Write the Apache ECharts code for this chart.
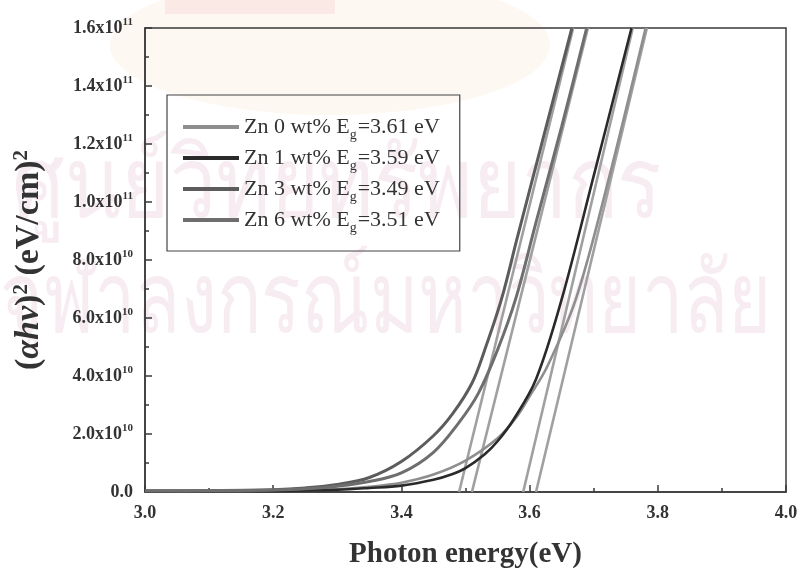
<!DOCTYPE html>
<html>
<head>
<meta charset="utf-8">
<script src="https://cdn.jsdelivr.net/npm/echarts@6/dist/echarts.min.js"></script>
<style>
  html, body { margin: 0; padding: 0; background: #ffffff; }
  #chart { width: 802px; height: 574px; }
</style>
</head>
<body>
<div id="chart"></div>
<script>
// ---- data ----
const seriesNames = ['Zn 0 wt%', 'Zn 1 wt%', 'Zn 3 wt%', 'Zn 6 wt%'];
const bandGaps = ['3.61', '3.59', '3.49', '3.51'];

const energyZn0 = [3.00, 3.10, 3.20, 3.30, 3.35, 3.40, 3.45, 3.50, 3.55, 3.58, 3.60, 3.627, 3.672, 3.72, 3.781];
const valueZn0  = [0.02e10, 0.03e10, 0.05e10, 0.10e10, 0.18e10, 0.32e10, 0.60e10, 1.08e10, 1.85e10, 2.6e10, 3.3e10, 4.3e10, 6.64e10, 10.5e10, 16e10];

const energyZn1 = [3.00, 3.10, 3.20, 3.30, 3.35, 3.40, 3.45, 3.48, 3.50, 3.53, 3.55, 3.575, 3.61, 3.65, 3.70, 3.759];
const valueZn1  = [0.02e10, 0.03e10, 0.04e10, 0.08e10, 0.14e10, 0.22e10, 0.42e10, 0.62e10, 0.82e10, 1.3e10, 1.75e10, 2.5e10, 3.89e10, 6.64e10, 10.9e10, 16e10];

const energyZn3 = [3.00, 3.10, 3.20, 3.25, 3.30, 3.35, 3.40, 3.45, 3.48, 3.51, 3.53, 3.556, 3.58, 3.62, 3.666];
const valueZn3  = [0.04e10, 0.05e10, 0.08e10, 0.14e10, 0.26e10, 0.50e10, 1.05e10, 1.94e10, 2.7e10, 3.75e10, 4.9e10, 6.64e10, 8.7e10, 12.1e10, 16e10];

const energyZn6 = [3.00, 3.10, 3.20, 3.25, 3.30, 3.35, 3.40, 3.45, 3.49, 3.52, 3.55, 3.578, 3.61, 3.65, 3.689];
const valueZn6  = [0.04e10, 0.05e10, 0.07e10, 0.11e10, 0.20e10, 0.36e10, 0.66e10, 1.37e10, 2.4e10, 3.4e10, 4.9e10, 6.64e10, 9.3e10, 12.6e10, 16e10];

// tangent (extrapolation) lines: start at Eg on the axis, end at the top of the plot
const tangentStart = [3.61, 3.59, 3.49, 3.51];
const tangentEnd   = [3.783, 3.761, 3.668, 3.691];
const tangentTopValue = 1.6e11;

const yTickLabels = ['0.0', '2.0x10^10', '4.0x10^10', '6.0x10^10', '8.0x10^10',
                     '1.0x10^11', '1.2x10^11', '1.4x10^11', '1.6x10^11'];
const xTickLabels = ['3.0', '3.2', '3.4', '3.6', '3.8', '4.0'];

const watermarkLines = ['ศูนย์วิทยทรัพยากร', 'จุฬาลงกรณ์มหาวิทยาลัย'];

// ---- build ----
const zip = (xs, ys) => xs.map((x, i) => [x, ys[i]]);
const curveData = [zip(energyZn0, valueZn0), zip(energyZn1, valueZn1),
                   zip(energyZn3, valueZn3), zip(energyZn6, valueZn6)];
const curveColors = ['#8e8e8e', '#2a2a2a', '#5c5c5c', '#6e6e6e'];
const curveWidths = [2.6, 2.6, 3, 3];

const serif = '"Liberation Serif", "Times New Roman", serif';

const series = [];
tangentStart.forEach((s, i) => {
  series.push({
    type: 'line', name: 'tangent' + i, silent: true, symbol: 'none',
    data: [[s, 0], [tangentEnd[i], tangentTopValue]],
    lineStyle: { color: '#a0a0a0', width: 2.6 }, z: 2
  });
});
curveData.forEach((d, i) => {
  series.push({
    type: 'line', name: seriesNames[i], symbol: 'none', smooth: 0.35,
    data: d, color: curveColors[i],
    lineStyle: { color: curveColors[i], width: curveWidths[i] }, z: 3
  });
});

function yLabel(v) {
  const idx = Math.round(v / 2e10);
  const s = yTickLabels[idx];
  if (s === undefined) return '';
  const parts = s.split('^');
  return parts.length > 1 ? parts[0] + '{sup|' + parts[1] + '}' : s;
}

const chart = echarts.init(document.getElementById('chart'), null, { renderer: 'canvas' });
chart.setOption({
  backgroundColor: '#ffffff',
  animation: false,
  graphic: [
    { type: 'ellipse', shape: { cx: 330, cy: 45, rx: 220, ry: 70 }, style: { fill: '#fdf8f2' }, z: -10, silent: true },
    { type: 'rect', shape: { x: 165, y: 0, width: 170, height: 14 }, style: { fill: '#fbe9e6' }, z: -10, silent: true },
    { type: 'text', x: 12, y: 140, scaleX: 0.94, scaleY: 1.12, z: -9, silent: true,
      style: { text: watermarkLines[0], font: '88px "Noto Sans", "DejaVu Sans", sans-serif', fill: '#f7ecf2' } },
    { type: 'text', x: 0, y: 255, scaleX: 0.84, scaleY: 1.12, z: -9, silent: true,
      style: { text: watermarkLines[1], font: '88px "Noto Sans", "DejaVu Sans", sans-serif', fill: '#f7ecf2' } }
  ],
  grid: { left: 145, right: 16, top: 28, bottom: 81, show: true, borderColor: '#3a3a3a', borderWidth: 1.5, backgroundColor: 'transparent' },
  legend: {
    data: seriesNames,
    orient: 'vertical', left: 167, top: 95,
    icon: 'rect', itemWidth: 56, itemHeight: 4, itemGap: 1,
    borderColor: '#444', borderWidth: 1.2,
    padding: [17, 20, 16, 16],
    backgroundColor: 'rgba(255,255,255,0)',
    formatter: function (name) {
      const i = seriesNames.indexOf(name);
      return '{a|' + name + ' E}{sub|g}{a|=' + bandGaps[i] + ' eV}';
    },
    textStyle: {
      rich: {
        a: { fontFamily: serif, fontSize: 22, color: '#333', lineHeight: 24 },
        sub: { fontFamily: serif, fontSize: 14, color: '#333', lineHeight: 14, padding: [16, 1, 0, 0] }
      }
    }
  },
  xAxis: {
    type: 'value', min: 3.0, max: 4.0, interval: 0.2,
    name: 'Photon energy(eV)', nameLocation: 'middle', nameGap: 48,
    nameTextStyle: { fontFamily: serif, fontWeight: 'bold', fontSize: 29, color: '#333' },
    axisLine: { show: true, lineStyle: { color: '#3a3a3a', width: 1.5 } },
    axisTick: { show: true, inside: true, length: 7, lineStyle: { color: '#3a3a3a', width: 1.5 } },
    minorTick: { show: true, splitNumber: 2, length: 4, lineStyle: { color: '#3a3a3a', width: 1.5 } },
    splitLine: { show: false },
    axisLabel: {
      margin: 12, fontFamily: serif, fontWeight: 'bold', fontSize: 18, color: '#333',
      formatter: function (v) {
        const idx = Math.round((v - 3.0) / 0.2);
        return xTickLabels[idx] !== undefined ? xTickLabels[idx] : '';
      }
    }
  },
  yAxis: {
    type: 'value', min: 0, max: 1.6e11, interval: 2e10,
    name: '{p|(}{i|αhν}{p|)}{s|2}{p| (eV/cm)}{s|2}', nameLocation: 'middle', nameGap: 98, nameRotate: 90,
    nameTextStyle: {
      rich: {
        p: { fontFamily: serif, fontWeight: 'bold', fontSize: 34, color: '#333', lineHeight: 36 },
        i: { fontFamily: serif, fontWeight: 'bold', fontStyle: 'italic', fontSize: 34, color: '#333', lineHeight: 36 },
        s: { fontFamily: serif, fontWeight: 'bold', fontSize: 21, color: '#333', lineHeight: 21, padding: [0, 0, 15, 0] }
      }
    },
    axisLine: { show: true, lineStyle: { color: '#3a3a3a', width: 1.5 } },
    axisTick: { show: true, inside: true, length: 7, lineStyle: { color: '#3a3a3a', width: 1.5 } },
    minorTick: { show: true, splitNumber: 2, length: 4, lineStyle: { color: '#3a3a3a', width: 1.5 } },
    splitLine: { show: false },
    axisLabel: {
      margin: 12, formatter: yLabel,
      rich: {
        sup: { fontFamily: serif, fontWeight: 'bold', fontSize: 11, color: '#333', lineHeight: 11, padding: [0, 0, 12, 0] }
      },
      fontFamily: serif, fontWeight: 'bold', fontSize: 18, color: '#333'
    }
  },
  series: series
});
</script>
</body>
</html>
